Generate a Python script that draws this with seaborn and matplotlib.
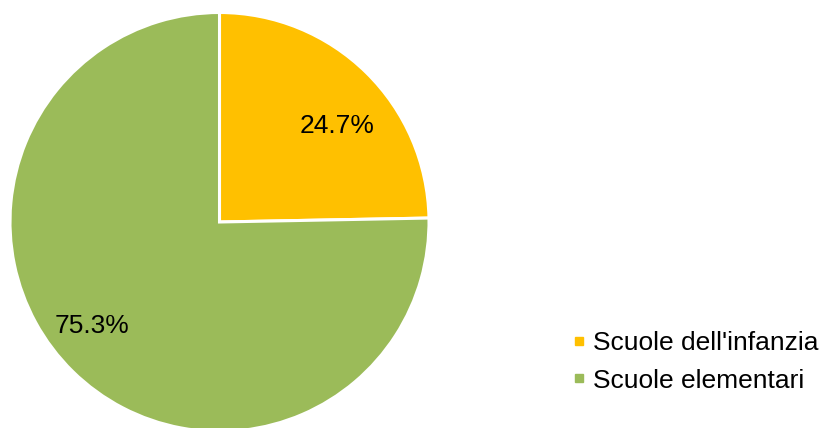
import numpy as np
import matplotlib
matplotlib.use("Agg")
import matplotlib.pyplot as plt
from matplotlib.lines import Line2D
import seaborn as sns

# Data
categories = ["Scuole dell'infanzia", "Scuole elementari"]
shares = [24.7, 75.3]
colors = ["#FFC000", "#9BBB59"]

sns.set_theme(style="white")
plt.rcParams['font.family'] = ['Liberation Sans', 'DejaVu Sans']
plt.rcParams['text.color'] = 'black'

fig = plt.figure(figsize=(8.24, 4.28), dpi=100)
W, H = 824, 428
cx, cy, r = 219.5, 222, 209.5
ax = fig.add_axes([(cx - r) / W, (H - cy - r) / H, 2 * r / W, 2 * r / H])

wedges, texts, autotexts = ax.pie(
    shares, colors=colors, startangle=90, counterclock=False,
    autopct='%1.1f%%', pctdistance=0.75,
    wedgeprops=dict(edgecolor='white', linewidth=2.2),
    textprops=dict(fontsize=19, color='black'))
ax.set_xlim(-1, 1)
ax.set_ylim(-1, 1)

# nudge the percentages the way the original places them
for w, t, d in zip(wedges, autotexts, [0.725, 0.785]):
    mid = np.deg2rad((w.theta1 + w.theta2) / 2 - 6.5)
    t.set_position((d * np.cos(mid), d * np.sin(mid)))

handles = [Line2D([], [], marker='s', linestyle='', markersize=6,
                  markerfacecolor=c, markeredgecolor=c) for c in colors]
fig.legend(handles, categories, loc='center left',
           bbox_to_anchor=(563 / W, 1 - 362 / H), frameon=False,
           fontsize=19, handlelength=0.45, handletextpad=0.3,
           labelspacing=0.5, borderaxespad=0, labelcolor='black')

fig.savefig("out.png", dpi=100)
